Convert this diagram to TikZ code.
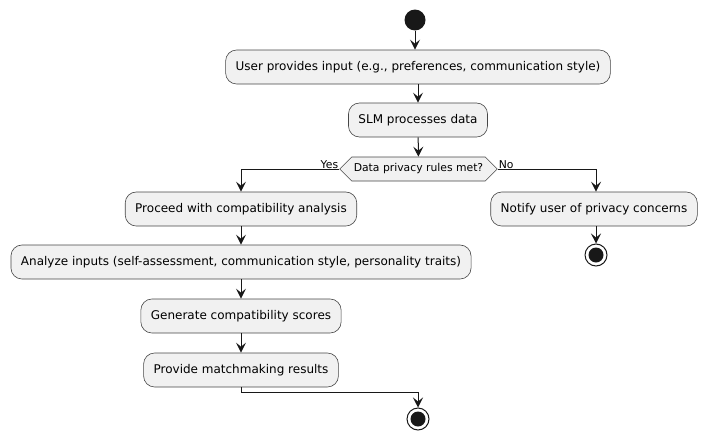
\documentclass[tikz,border=0pt]{standalone}
\usepackage{fontspec}
\setmainfont{DejaVu Sans}
\usetikzlibrary{arrows.meta,shapes.symbols}
\definecolor{boxfill}{HTML}{F1F1F1}
\definecolor{linecol}{HTML}{181818}

\begin{document}
\begin{tikzpicture}[x=1pt,y=-1pt,
		action/.style={draw=linecol!80,line width=0.6pt,fill=boxfill,rounded corners=11pt,
			minimum height=34pt,inner xsep=10pt,font=\fontsize{12}{14}\selectfont},
		decision/.style={draw=linecol!80,line width=0.6pt,fill=boxfill,shape=signal,signal to=west and east,
			signal pointer angle=90,minimum height=24pt,inner xsep=2pt,
			font=\fontsize{10.8}{12}\selectfont},
		flow/.style={draw=linecol,line width=1pt,-{Stealth[length=10pt,width=10pt,inset=4pt]}},
		branchlabel/.style={font=\fontsize{10.8}{12}\selectfont,inner sep=1pt}]
		\useasboundingbox (0,0) rectangle (708,439);
		\node[circle,fill=linecol,minimum size=21pt,inner sep=0pt] (start) at (415,20) {};
		\node[action] (input) at (418,67) {User provides input (e.g., preferences, communication style)};
		\node[action] (process) at (418,120) {SLM processes data};
		\node[decision] (privacy) at (418.5,169) {Data privacy rules met?};
		\node[branchlabel,anchor=south east] (yes) at ([yshift=-1pt]privacy.west) {Yes};
		\node[branchlabel,anchor=south west] (no) at ([yshift=-1pt]privacy.east) {No};
		\node[action] (proceed) at (241,209) {Proceed with compatibility analysis};
		\node[action] (analyze) at (241,262) {Analyze inputs (self-assessment, communication style, personality traits)};
		\node[action] (scores) at (241,316) {Generate compatibility scores};
		\node[action] (results) at (241,370) {Provide matchmaking results};
		\node[action] (notify) at (594,209) {Notify user of privacy concerns};
		\node[circle,draw=linecol,line width=1pt,minimum size=22pt,inner sep=0pt] (stopa) at (596,255) {};
		\node[circle,fill=linecol,minimum size=15pt,inner sep=0pt] at (stopa) {};
		\node[circle,draw=linecol,line width=1pt,minimum size=22pt,inner sep=0pt] (stopb) at (418,419) {};
		\node[circle,fill=linecol,minimum size=15pt,inner sep=0pt] at (stopb) {};
		\draw[flow] (start) -- (input.north -| start);
		\draw[flow] (input) -- (process);
		\draw[flow] (process) -- (privacy);
		\draw[flow] (privacy.west) -| (proceed.north);
		\draw[flow] (privacy.east) -| (stopa |- notify.north);
		\draw[flow] (proceed) -- (analyze);
		\draw[flow] (analyze) -- (scores);
		\draw[flow] (scores) -- (results);
		\draw[flow] (notify.south -| stopa) -- (stopa);
		\draw[flow] (results.south) -- ++(0,5) -| (stopb.north);
	\end{tikzpicture}
\end{document}
